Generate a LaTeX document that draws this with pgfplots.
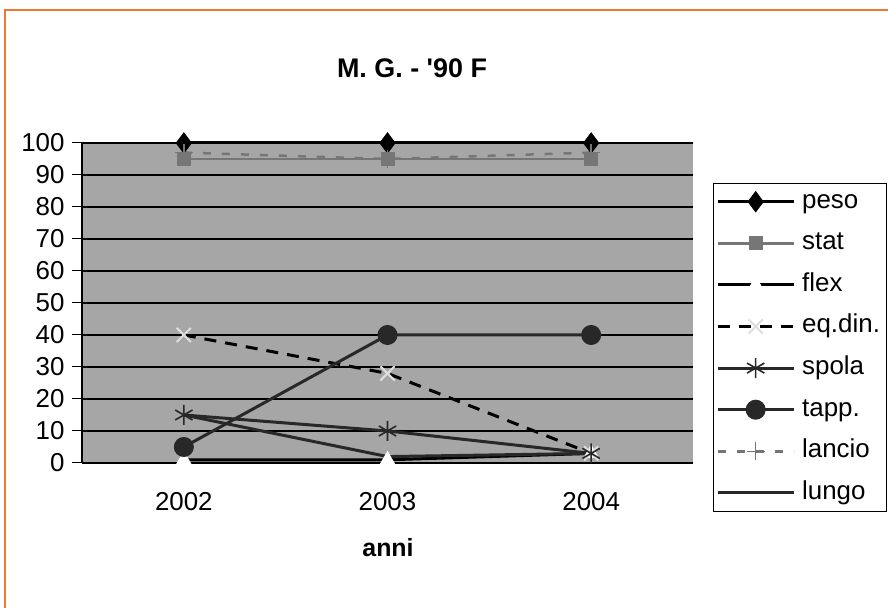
\documentclass[border=0pt]{standalone}
\usepackage{fontspec}
\setmainfont{Liberation Sans}
\usepackage{pgfplots}
\pgfplotsset{compat=1.18}
\definecolor{bg}{RGB}{166,166,166}
\definecolor{orangeb}{RGB}{240,120,50}
\definecolor{statg}{RGB}{118,118,118}
\definecolor{dark}{RGB}{40,40,40}
\definecolor{lightx}{RGB}{222,222,222}
\begin{document}
\begin{tikzpicture}[x=1bp,y=1bp]
\useasboundingbox (0,0) rectangle (888,608);
\fill[white] (0,0) rectangle (888,608);
\draw[orangeb, line width=2bp] (5,-5) -- (5,598) -- (893,598);
\node[font=\bfseries\fontsize{27}{30}\selectfont] at (412,540) {M. G. - \textquotesingle 90 F};
\node[font=\bfseries\fontsize{25}{28}\selectfont] at (388,60) {anni};
\begin{axis}[
  at={(82bp,145bp)}, anchor=south west,
  scale only axis, width=611bp, height=320bp,
  xmin=-0.5, xmax=2.5, ymin=0, ymax=100,
  ytick={0,10,...,100},
  xtick={0,1,2}, xticklabels={2002,2003,2004},
  major x tick style={draw=none},
  extra x ticks={-0.5,0.5,1.5,2.5}, extra x tick labels={},
  extra x tick style={major tick length=9bp, tick style={black, line width=1bp}, grid=none},
  ymajorgrids, grid style={black, line width=1.2bp},
  tick align=outside, major tick length=10bp,
  ytick style={black, line width=1bp},
  axis background/.style={fill=bg},
  axis x line*=bottom, axis y line*=left,
  axis line style={black, line width=1.2bp, -},
  tick label style={font=\fontsize{26}{29}\selectfont},
  yticklabel style={xshift=-4bp},
  xticklabel style={yshift=-16bp},
  /pgf/number format/assume math mode=true,
  clip=false,
  legend cell align=left,
  legend style={at={(1.0327,0.875)}, anchor=north west, draw=black,
    fill=white, font=\fontsize{26}{29}\selectfont, row sep=10.6bp, inner sep=3bp,
    nodes={inner sep=3bp, text height=19bp, text depth=6bp},
    /tikz/every odd column/.append style={column sep=4bp}},
  legend image code/.code={\draw[mark repeat=2,mark phase=2] plot coordinates {(0bp,0bp) (38bp,0bp) (76bp,0bp)};},
]
\addplot[black, line width=3bp, mark=diamond*, mark size=10bp, mark options={solid, fill=black, line width=1bp}] coordinates {(0,100) (1,100) (2,100)};
\addlegendentry{peso}
\addplot[statg, line width=2.5bp, mark=square*, mark size=6.5bp, mark options={solid, fill=statg, line width=1bp}] coordinates {(0,95) (1,95) (2,95)};
\addlegendentry{stat}
\addplot[black, line width=3bp, mark=triangle*, mark size=8bp, mark options={solid, fill=white, draw=white, line width=1bp}] coordinates {(0,1) (1,1) (2,3)};
\addlegendentry{flex}
\addplot[black, line width=3bp, dash pattern=on 12bp off 9bp, mark=x, mark size=10bp, mark options={solid, draw=lightx, line width=2bp}] coordinates {(0,40) (1,28) (2,3)};
\addlegendentry{eq.din.}
\addplot[dark, line width=3bp, mark=asterisk, mark size=10bp, mark options={solid, line width=1.6bp}] coordinates {(0,15) (1,10) (2,3)};
\addlegendentry{spola}
\addplot[dark, line width=3bp, mark=*, mark size=9.5bp, mark options={solid, fill=dark, line width=1bp}] coordinates {(0,5) (1,40) (2,40)};
\addlegendentry{tapp.}
\addplot[statg, line width=2.5bp, dash pattern=on 8bp off 11bp, mark=+, mark size=9bp, mark options={solid, line width=1.5bp}] coordinates {(0,97) (1,95) (2,97)};
\addlegendentry{lancio}
\addplot[dark, line width=3bp] coordinates {(0,15) (1,2) (2,3)};
\addlegendentry{lungo}
\end{axis}
\end{tikzpicture}
\end{document}
